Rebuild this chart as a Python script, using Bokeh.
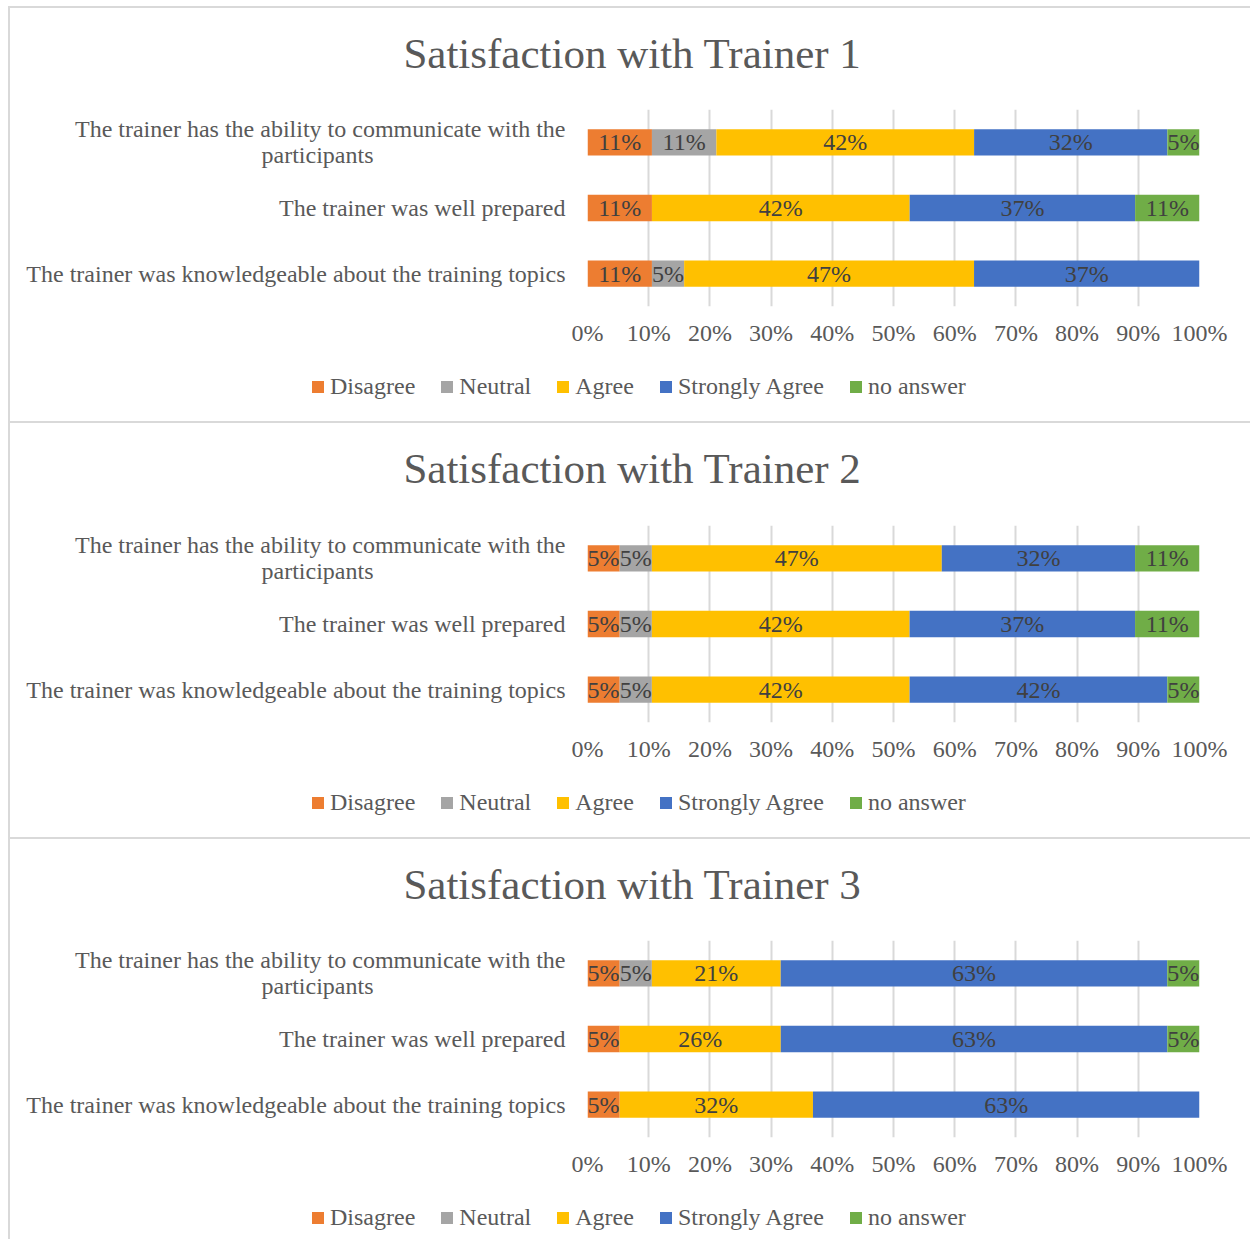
from bokeh.plotting import figure
from bokeh.layouts import column
from bokeh.models import (ColumnDataSource, FactorRange, Range1d, Legend, LegendItem,
                          PrintfTickFormatter, FixedTicker, Label)
from bokeh.core.properties import value
from bokeh.embed import file_html
from bokeh.resources import INLINE
import numpy as np

# questions, bottom to top
questions = [
    "The trainer was knowledgeable about the training topics",
    "The trainer was well prepared",
    "The trainer has the ability to communicate with the\nparticipants" + "\u00a0" * 32,
]
responses = ["Disagree", "Neutral", "Agree", "Strongly Agree", "no answer"]
colors = ["#ED7D31", "#A5A5A5", "#FFC000", "#4472C4", "#70AD47"]
titles = ["Satisfaction with Trainer 1", "Satisfaction with Trainer 2", "Satisfaction with Trainer 3"]
x_ticks = [0, 10, 20, 30, 40, 50, 60, 70, 80, 90, 100]

# percentages, in question order (bottom to top)
t1_disagree = [10.53, 10.53, 10.53]
t1_neutral = [5.26, 0.0, 10.53]
t1_agree = [47.37, 42.11, 42.11]
t1_strongly = [36.84, 36.84, 31.58]
t1_noanswer = [0.0, 10.53, 5.26]

t2_disagree = [5.26, 5.26, 5.26]
t2_neutral = [5.26, 5.26, 5.26]
t2_agree = [42.11, 42.11, 47.37]
t2_strongly = [42.11, 36.84, 31.58]
t2_noanswer = [5.26, 10.53, 10.53]

t3_disagree = [5.26, 5.26, 5.26]
t3_neutral = [0.0, 0.0, 5.26]
t3_agree = [31.58, 26.32, 21.05]
t3_strongly = [63.16, 63.16, 63.16]
t3_noanswer = [0.0, 5.26, 5.26]

trainers = [
    [t1_disagree, t1_neutral, t1_agree, t1_strongly, t1_noanswer],
    [t2_disagree, t2_neutral, t2_agree, t2_strongly, t2_noanswer],
    [t3_disagree, t3_neutral, t3_agree, t3_strongly, t3_noanswer],
]

FONT = "Liberation Serif"
TXT = "#595959"
GRID = "#d9d9d9"
W = 1240
FRAME_H = 197
STRIP_H = 90
CHART_BOTTOM = 50
heights = [413, 414, 400]
tops = [11, 12, 11]


def blank(height):
    f = figure(width=W, height=height, x_range=Range1d(0, W), y_range=Range1d(0, height),
               x_axis_type=None, y_axis_type=None, output_backend="svg",
               toolbar_location=None, min_border=0)
    f.outline_line_color = None
    f.grid.grid_line_color = None
    f.frame_align = False
    return f


def make_panel(title, series, height, top):
    # title strip
    tf = blank(STRIP_H)
    tf.add_layout(Label(x=622, y=STRIP_H - 45, text=title, text_align="center",
                        text_baseline="middle", text_font=FONT, text_font_size="43px",
                        text_color=TXT))

    chart_h = top + FRAME_H + CHART_BOTTOM
    p = figure(width=W, height=chart_h, y_range=FactorRange(*questions),
               x_range=Range1d(0, 100), output_backend="svg", toolbar_location=None,
               min_border_left=577, min_border_right=W - 577 - 612, min_border_top=top,
               min_border_bottom=CHART_BOTTOM)
    p.outline_line_color = None

    left = np.zeros(len(questions))
    for name, vals, col in zip(responses, series, colors):
        vals = np.array(vals)
        src = ColumnDataSource(dict(y=questions, left=left.copy(), right=left + vals))
        p.hbar(y="y", left="left", right="right", height=0.4, source=src,
               fill_color=col, line_color=None)
        mask = vals > 0
        lsrc = ColumnDataSource(dict(
            y=[q for q, m in zip(questions, mask) if m],
            x=list((left + vals / 2)[mask]),
            t=["%d%%" % round(v) for v in vals[mask]]))
        p.text(x="x", y="y", text="t", source=lsrc, text_align="center",
               text_baseline="middle", text_font=value(FONT), text_font_size="24px",
               text_color="#404040")
        left = left + vals

    p.xaxis.ticker = FixedTicker(ticks=x_ticks)
    p.xaxis.formatter = PrintfTickFormatter(format="%d%%")
    p.xaxis.axis_line_color = None
    p.xaxis.major_tick_line_color = None
    p.xaxis.minor_tick_line_color = None
    p.xaxis.major_label_text_font = FONT
    p.xaxis.major_label_text_font_size = "24px"
    p.xaxis.major_label_text_color = TXT
    p.xaxis.major_label_standoff = 7

    p.yaxis.axis_line_color = None
    p.yaxis.major_tick_line_color = None
    p.yaxis.major_label_text_font = FONT
    p.yaxis.major_label_text_font_size = "24px"
    p.yaxis.major_label_text_color = TXT
    p.yaxis.major_label_text_line_height = 1.0
    p.yaxis.major_label_standoff = 16

    p.xgrid.grid_line_color = GRID
    p.xgrid.grid_line_width = 2
    p.ygrid.grid_line_color = None
    p.y_range.range_padding = 0

    # legend strip below the chart
    leg_h = height - STRIP_H - chart_h
    lf = blank(leg_h)
    items = []
    for name, col in zip(responses, colors):
        r = lf.hbar(y=[-50], left=[0], right=[0], height=1, fill_color=col, line_color=None)
        items.append(LegendItem(label=name, renderers=[r]))
    legend = Legend(items=items, orientation="horizontal", location=(300, leg_h - 44),
                    label_text_font=FONT, label_text_font_size="24px",
                    label_text_color=TXT, glyph_width=15, glyph_height=15,
                    label_standoff=5, spacing=24, padding=0, margin=0,
                    border_line_color=None, background_fill_alpha=0)
    lf.add_layout(legend, "center")

    panel = column(tf, p, lf, spacing=0)
    panel.styles = {"border-top": "2px solid #d9d9d9", "border-left": "2px solid #d9d9d9"}
    return panel


panels = [make_panel(t, s, h, tp) for t, s, h, tp in zip(titles, trainers, heights, tops)]
layout = column(*panels, spacing=0)
layout.styles = {"margin-left": "8px", "margin-top": "6px"}
open("out.html", "w").write(file_html(layout, INLINE))
